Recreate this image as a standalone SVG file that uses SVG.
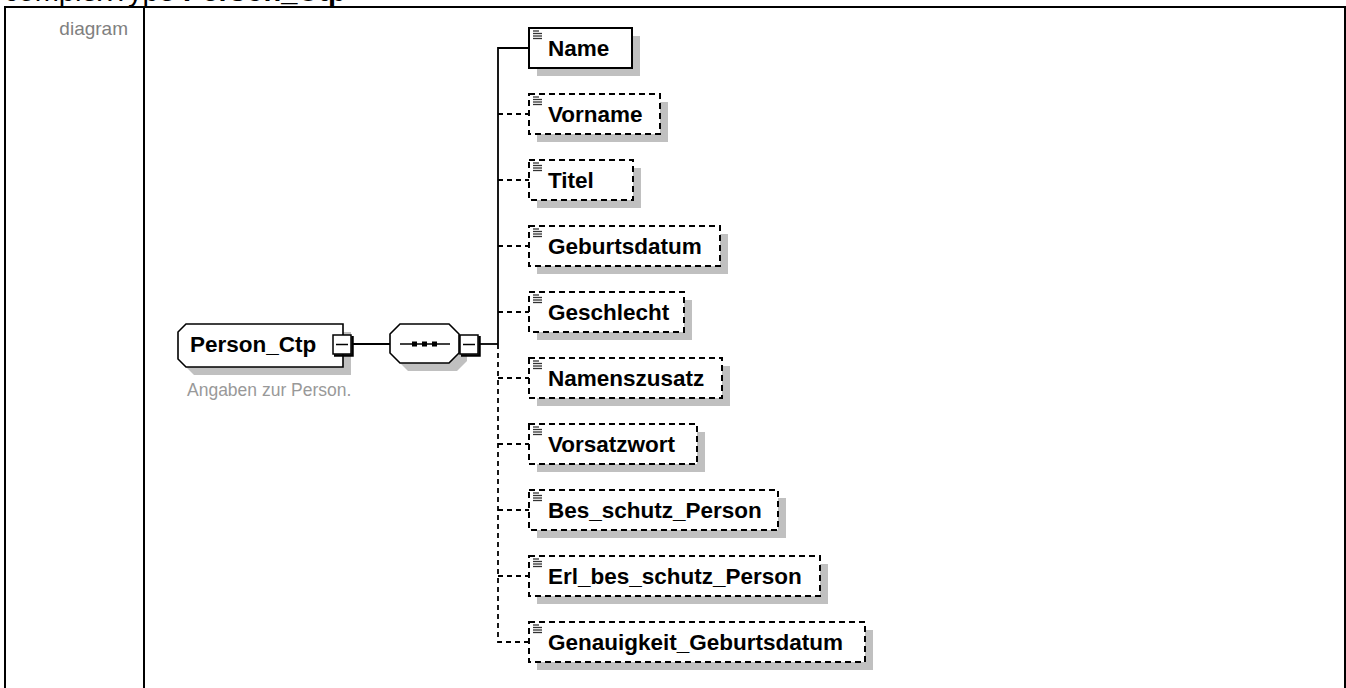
<svg xmlns="http://www.w3.org/2000/svg" width="1346" height="688" viewBox="0 0 1346 688">
<style>
.frame{fill:none;stroke:#000;stroke-width:2}
.hdr{font-family:"Liberation Sans",Arial,sans-serif;font-size:29px;fill:#000}
.lbl{font-family:"Liberation Sans",Arial,sans-serif;font-size:19px;fill:#808080}
.name{font-family:"Liberation Sans",Arial,sans-serif;font-size:22.5px;font-weight:bold;fill:#000}
.doc{font-family:"Liberation Sans",Arial,sans-serif;font-size:17.5px;fill:#999}
.shadow{fill:#c0c0c0;stroke:none}
.box{fill:#fff;stroke:#000;stroke-width:2}
.opt{fill:#fff;stroke:#000;stroke-width:2;stroke-dasharray:6,4}
.node{fill:#fff;stroke:#000;stroke-width:1.6}
.conn{fill:none;stroke:#000;stroke-width:1.8}
.dconn{fill:none;stroke:#000;stroke-width:1.8;stroke-dasharray:5,4}
.icon{stroke:#333;stroke-width:1.3}
.mbox{fill:#fff;stroke:#000;stroke-width:1.5}
.mshade{fill:none;stroke:#000;stroke-width:2.5}
</style>
<defs>
<g id="elicon">
<line class="icon" x1="4" y1="3" x2="10" y2="3"/>
<line class="icon" x1="4" y1="5.5" x2="13" y2="5.5"/>
<line class="icon" x1="4" y1="8" x2="13" y2="8"/>
<line class="icon" x1="4" y1="10.5" x2="13" y2="10.5"/>
</g>
<g id="minus">
<rect class="mbox" x="0" y="0" width="18" height="19"/>
<path class="mshade" d="M19.5,1 V20.5 H1"/>
<line stroke="#000" stroke-width="1.5" x1="3" y1="9.5" x2="15" y2="9.5"/>
</g>
</defs>
<rect width="1346" height="688" fill="#fff"/>
<text class="hdr" x="4" y="1">complexType <tspan font-weight="bold">Person_Ctp</tspan></text>
<g id="table">
<path class="frame" d="M5,700 V7 H1345 V700"/>
<path class="frame" d="M144,7 V700"/>
<text class="lbl" x="128" y="35" text-anchor="end">diagram</text>
</g>
<g id="connectors">
<line class="conn" x1="353" y1="344" x2="390" y2="344"/>
<line class="conn" x1="480" y1="344" x2="498" y2="344"/>
<path class="conn" d="M529,48 H498 V344"/>
<path class="dconn" d="M498,344 V642 H529"/>
<line class="dconn" x1="498" y1="114" x2="529" y2="114"/>
<line class="dconn" x1="498" y1="180" x2="529" y2="180"/>
<line class="dconn" x1="498" y1="246" x2="529" y2="246"/>
<line class="dconn" x1="498" y1="312" x2="529" y2="312"/>
<line class="dconn" x1="498" y1="378" x2="529" y2="378"/>
<line class="dconn" x1="498" y1="444" x2="529" y2="444"/>
<line class="dconn" x1="498" y1="510" x2="529" y2="510"/>
<line class="dconn" x1="498" y1="576" x2="529" y2="576"/>
</g>
<g id="Person_Ctp">
<path class="shadow" d="M194,332 H351 V375 H194 L186,367 V340 Z"/>
<path class="node" d="M186,324 H343 V367 H186 L178,359 V332 Z"/>
<text class="name" x="190" y="352">Person_Ctp</text>
<use href="#minus" x="333" y="335"/>
<text class="doc" x="187" y="396">Angaben zur Person.</text>
</g>
<g id="sequence">
<path class="shadow" d="M398,342 L408,332 L457,332 L467,342 L467,361 L457,371 L408,371 L398,361 Z"/>
<path class="node" d="M390,334 L400,324 L449,324 L459,334 L459,353 L449,363 L400,363 L390,353 Z"/>
<line stroke="#000" stroke-width="1.5" x1="400" y1="344" x2="450" y2="344"/>
<rect x="412" y="341.5" width="5" height="5" fill="#000"/>
<rect x="422" y="341.5" width="5" height="5" fill="#000"/>
<rect x="432" y="341.5" width="5" height="5" fill="#000"/>
<use href="#minus" x="460" y="335"/>
</g>
<g id="Name">
<rect class="shadow" x="537" y="36" width="103" height="40"/>
<rect class="box" x="529" y="28" width="103" height="40"/>
<use href="#elicon" x="529" y="28"/>
<text class="name" x="548" y="56">Name</text>
</g>
<g id="Vorname">
<rect class="shadow" x="537" y="102" width="131" height="40"/>
<rect class="opt" x="529" y="94" width="131" height="40"/>
<use href="#elicon" x="529" y="94"/>
<text class="name" x="548" y="122">Vorname</text>
</g>
<g id="Titel">
<rect class="shadow" x="537" y="168" width="104" height="40"/>
<rect class="opt" x="529" y="160" width="104" height="40"/>
<use href="#elicon" x="529" y="160"/>
<text class="name" x="548" y="188">Titel</text>
</g>
<g id="Geburtsdatum">
<rect class="shadow" x="537" y="234" width="191" height="40"/>
<rect class="opt" x="529" y="226" width="191" height="40"/>
<use href="#elicon" x="529" y="226"/>
<text class="name" x="548" y="254">Geburtsdatum</text>
</g>
<g id="Geschlecht">
<rect class="shadow" x="537" y="300" width="155" height="40"/>
<rect class="opt" x="529" y="292" width="155" height="40"/>
<use href="#elicon" x="529" y="292"/>
<text class="name" x="548" y="320">Geschlecht</text>
</g>
<g id="Namenszusatz">
<rect class="shadow" x="537" y="366" width="193" height="40"/>
<rect class="opt" x="529" y="358" width="193" height="40"/>
<use href="#elicon" x="529" y="358"/>
<text class="name" x="548" y="386">Namenszusatz</text>
</g>
<g id="Vorsatzwort">
<rect class="shadow" x="537" y="432" width="168" height="40"/>
<rect class="opt" x="529" y="424" width="168" height="40"/>
<use href="#elicon" x="529" y="424"/>
<text class="name" x="548" y="452">Vorsatzwort</text>
</g>
<g id="Bes_schutz_Person">
<rect class="shadow" x="537" y="498" width="249" height="40"/>
<rect class="opt" x="529" y="490" width="249" height="40"/>
<use href="#elicon" x="529" y="490"/>
<text class="name" x="548" y="518">Bes_schutz_Person</text>
</g>
<g id="Erl_bes_schutz_Person">
<rect class="shadow" x="537" y="564" width="291" height="40"/>
<rect class="opt" x="529" y="556" width="291" height="40"/>
<use href="#elicon" x="529" y="556"/>
<text class="name" x="548" y="584">Erl_bes_schutz_Person</text>
</g>
<g id="Genauigkeit_Geburtsdatum">
<rect class="shadow" x="537" y="630" width="336" height="40"/>
<rect class="opt" x="529" y="622" width="336" height="40"/>
<use href="#elicon" x="529" y="622"/>
<text class="name" x="548" y="650">Genauigkeit_Geburtsdatum</text>
</g>
</svg>
